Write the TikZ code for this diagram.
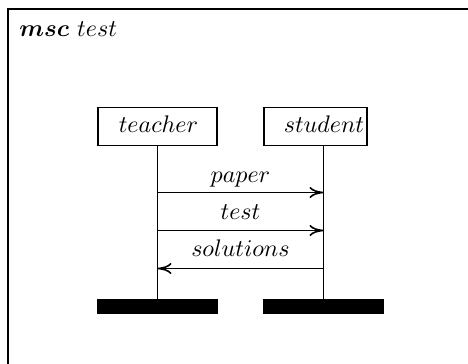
\documentclass[tikz,border=0pt]{standalone}
\usetikzlibrary{arrows.meta}
% message-sequence-chart labels: math italic, magnified
\newcommand\msclabel[1]{\scalebox{1.2}{$#1$}}
\begin{document}
\begin{tikzpicture}[x=0.5pt,y=-0.5pt,
    every node/.style={font=\fontsize{10}{12}\selectfont},
    frameline/.style={line width=1pt},
    instbox/.style={draw,line width=0.8pt,minimum height=19pt,inner sep=0pt},
    lifeline/.style={line width=0.9pt},
    endbar/.style={fill=black,draw=none,minimum width=60.5pt,minimum height=7.5pt,inner sep=0pt},
    msg/.style={line width=0.8pt,-{To[length=7pt,width=5.5pt]}},
    txt/.style={anchor=base,inner sep=0pt}]
  \useasboundingbox (0,0) rectangle (468,364);
  % diagram frame (open towards right and bottom)
  \draw[frameline] (8,364) -- (8,9) -- (468,9);
  \node[anchor=base west,inner sep=0pt] (title) at (19,37)
    {\scalebox{1.2}{{\boldmath$msc$} $test$}};

  % instance heads
  \node[instbox,minimum width=59.5pt] (teacher) at (157.5,126.5) {};
  \node[instbox,minimum width=51.5pt] (student) at (315.5,126.5) {};
  \node[txt] (teachername) at (158.5,133) {\msclabel{teacher}};
  \node[txt] (studentname) at (324,133) {\msclabel{student}};

  % instance ends and lifelines
  \node[endbar] (tend) at (157.5,306.5) {};
  \node[endbar] (send) at (323.5,306.5) {};
  \draw[lifeline] (teacher.south) -- (tend.north);
  \draw[lifeline] (student.south -| send.north) -- (send.north);

  % message attachment points on the lifelines
  \coordinate (t1) at (157.5,192.5);
  \coordinate (s1) at (323.5,192.5);
  \coordinate (t2) at (157.5,230.5);
  \coordinate (s2) at (323.5,230.5);
  \coordinate (t3) at (157.5,268.5);
  \coordinate (s3) at (323.5,268.5);

  % messages
  \draw[msg] (t1) -- (s1);
  \node[txt] (lpaper) at (240.5,182.5) {\msclabel{paper}};
  \draw[msg] (t2) -- (s2);
  \node[txt] (ltest) at (240.5,220) {\msclabel{test}};
  \draw[msg] (s3) -- (t3);
  \node[txt] (lsol) at (240.5,257) {\msclabel{solutions}};
\end{tikzpicture}
\end{document}
